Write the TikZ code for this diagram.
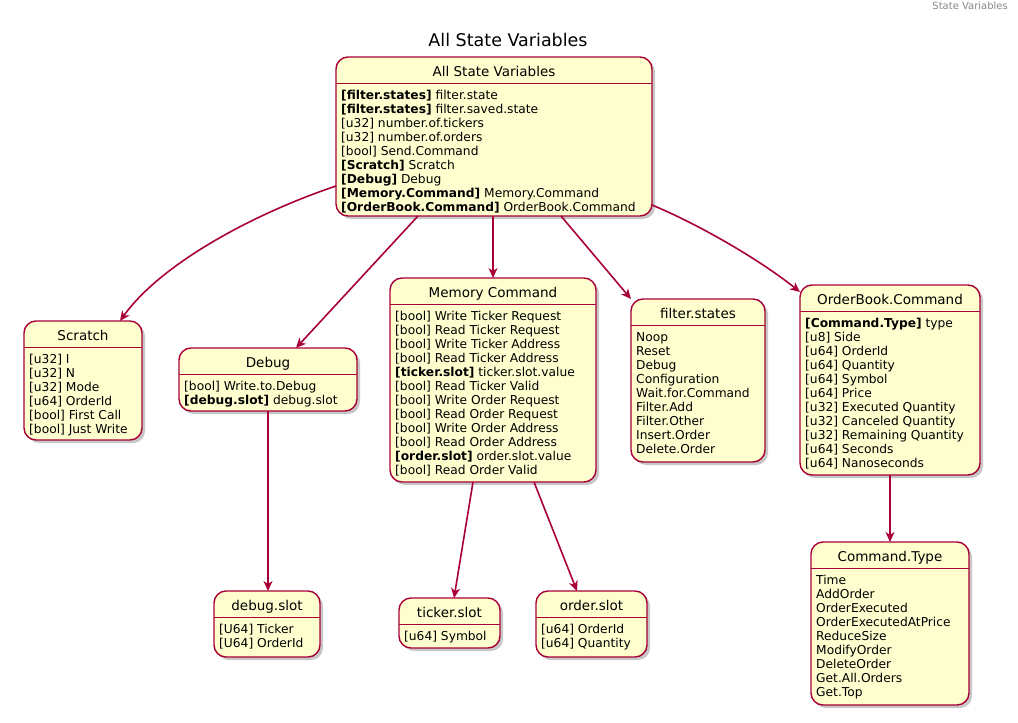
\documentclass[tikz,border=0pt]{standalone}
\usepackage{fontspec}
\setmainfont{DejaVu Sans}
\usetikzlibrary{arrows.meta,shadows}
\definecolor{umlred}{HTML}{A80036}
\definecolor{umlfill}{HTML}{FEFECE}
\definecolor{hdrgray}{HTML}{888888}
\tikzset{
  statebox/.style={draw=umlred, fill=umlfill, rounded corners=12pt, line width=1.4pt, inner sep=0pt, outer sep=0pt,
    drop shadow={shadow xshift=3pt, shadow yshift=-3pt, fill=black, opacity=0.22}},
  sepline/.style={draw=umlred, line width=1pt},
  titletext/.style={font=\fontsize{13.5}{16}\selectfont, inner sep=0pt},
  bodytext/.style={font=\fontsize{12.25}{14}\selectfont, align=left, inner sep=0pt},
  conn/.style={draw=umlred, line width=1.6pt, -{Stealth[length=10pt,width=9pt,inset=3pt]}},
}
\newcommand\umlstate[7]{%
  \node[statebox, minimum width=#4pt, minimum height=#5pt, anchor=north west] (#1) at (#2,#3) {};
  \draw[sepline] ([yshift=-26pt]#1.north west) -- ([yshift=-26pt]#1.north east);
  \node[titletext, anchor=base] (#1-title) at ([yshift=-19pt]#1.north) {#6};
  \node[bodytext, anchor=north west] (#1-body) at ([xshift=5pt,yshift=-32.2pt]#1.north west) {\strut #7};
}
\begin{document}
\begin{tikzpicture}[x=1pt,y=-1pt]
\fill[white] (0,0) rectangle (1018,723);
\useasboundingbox (0,0) rectangle (1018,723);
\node[font=\fontsize{10}{12}\selectfont, text=hdrgray, anchor=base east, inner sep=0pt] (hdr) at (1008,9) {State Variables};
\node[font=\fontsize{17.5}{20}\selectfont, anchor=base, inner sep=0pt] (title) at (508,46) {All State Variables};

\umlstate{asv}{336}{57}{316}{159}{All State Variables}{%
\textbf{[filter.states]} filter.state\\
\textbf{[filter.states]} filter.saved.state\\
{[u32]} number.of.tickers\\
{[u32]} number.of.orders\\
{[bool]} Send.Command\\
\textbf{[Scratch]} Scratch\\
\textbf{[Debug]} Debug\\
\textbf{[Memory.Command]} Memory.Command\\
\textbf{[OrderBook.Command]} OrderBook.Command}

\umlstate{scratch}{24}{321}{118}{119}{Scratch}{%
{[u32]} I\\
{[u32]} N\\
{[u32]} Mode\\
{[u64]} OrderId\\
{[bool]} First Call\\
{[bool]} Just Write}

\umlstate{debug}{179}{348}{178}{63}{Debug}{%
{[bool]} Write.to.Debug\\
\textbf{[debug.slot]} debug.slot}

\umlstate{memory}{390}{278}{206}{204}{Memory Command}{%
{[bool]} Write Ticker Request\\
{[bool]} Read Ticker Request\\
{[bool]} Write Ticker Address\\
{[bool]} Read Ticker Address\\
\textbf{[ticker.slot]} ticker.slot.value\\
{[bool]} Read Ticker Valid\\
{[bool]} Write Order Request\\
{[bool]} Read Order Request\\
{[bool]} Write Order Address\\
{[bool]} Read Order Address\\
\textbf{[order.slot]} order.slot.value\\
{[bool]} Read Order Valid}

\umlstate{filter}{631}{299}{134}{163}{filter.states}{%
Noop\\
Reset\\
Debug\\
Configuration\\
Wait.for.Command\\
Filter.Add\\
Filter.Other\\
Insert.Order\\
Delete.Order}

\umlstate{orderbook}{800}{285}{180}{190}{OrderBook.Command}{%
\textbf{[Command.Type]} type\\
{[u8]} Side\\
{[u64]} OrderId\\
{[u64]} Quantity\\
{[u64]} Symbol\\
{[u64]} Price\\
{[u32]} Executed Quantity\\
{[u32]} Canceled Quantity\\
{[u32]} Remaining Quantity\\
{[u64]} Seconds\\
{[u64]} Nanoseconds}

\umlstate{debugslot}{214}{591}{106}{66}{debug.slot}{%
{[U64]} Ticker\\
{[U64]} OrderId}

\umlstate{tickerslot}{399}{598}{101}{50}{ticker.slot}{%
{[u64]} Symbol}

\umlstate{orderslot}{536}{591}{111}{66}{order.slot}{%
{[u64]} OrderId\\
{[u64]} Quantity}

\umlstate{cmdtype}{811}{542}{158}{163}{Command.Type}{%
Time\\
AddOrder\\
OrderExecuted\\
OrderExecutedAtPrice\\
ReduceSize\\
ModifyOrder\\
DeleteOrder\\
Get.All.Orders\\
Get.Top}

\draw[conn] ([yshift=-129pt]asv.north west) .. controls +(-86,29) and +(40,-56) .. ([xshift=96pt]scratch.north west);
\draw[conn] ([xshift=82pt]asv.south west) -- ([xshift=117pt]debug.north west);
\draw[conn] (memory.north |- asv.south) -- (memory.north);
\draw[conn] ([xshift=225pt]asv.south west) -- (filter.north west);
\draw[conn] ([yshift=-148pt]asv.north east) .. controls +(48,20) and +(-40,-32) .. ([yshift=-7pt]orderbook.north west);
\draw[conn] (debug.south) -- (debug.south |- debugslot.north);
\draw[conn] ([xshift=83pt]memory.south west) -- ([xshift=55pt]tickerslot.north west);
\draw[conn] ([xshift=144pt]memory.south west) -- ([xshift=41pt]orderslot.north west);
\draw[conn] (orderbook.south) -- (orderbook.south |- cmdtype.north);
\end{tikzpicture}
\end{document}
